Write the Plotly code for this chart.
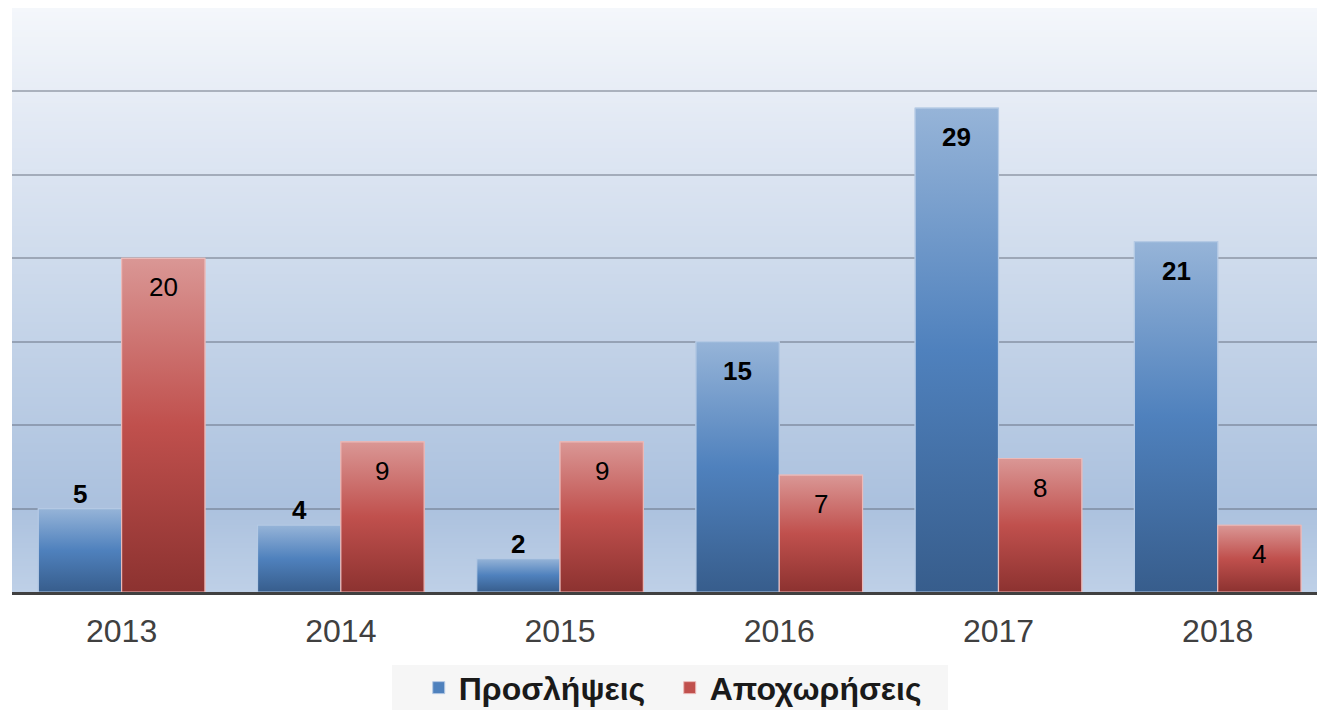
import base64
import struct
import zlib

import plotly.graph_objects as go

# ---------------- data ----------------
categories = ["2013", "2014", "2015", "2016", "2017", "2018"]
hires = [5, 4, 2, 15, 29, 21]            # Προσλήψεις
departures = [20, 9, 9, 7, 8, 4]         # Αποχωρήσεις
series_names = ["Προσλήψεις", "Αποχωρήσεις"]
hires_label_pos = ["outside", "outside", "outside", "inside", "inside", "inside"]
departures_label_pos = ["inside"] * 6

# ---------------- style ----------------
FONT = "Liberation Sans, Arial, sans-serif"
BAR_W = 0.38
X_SPAN = 5.953          # visible category span (last category clipped at the right edge)
blue_scale = [[0, "#375d8c"], [0.5, "#4f81bd"], [1, "#96b4d8"]]
red_scale = [[0, "#8c3230"], [0.5, "#c0504d"], [1, "#da9795"]]
blue_mid, red_mid = "#4f81bd", "#c0504d"
blue_edge, red_edge = "#b4c9e4", "#ebbab9"


def gradient_png(stops, height=256, width=2):
    """Vertical gradient PNG (top->bottom) as data URI for the plot background."""
    def hex2rgb(h):
        h = h.lstrip("#")
        return [int(h[i:i + 2], 16) for i in (0, 2, 4)]
    pts = [(p, hex2rgb(c)) for p, c in stops]
    raw = b""
    for r in range(height):
        t = r / (height - 1)
        for k in range(len(pts) - 1):
            if pts[k][0] <= t <= pts[k + 1][0]:
                p0, c0 = pts[k]
                p1, c1 = pts[k + 1]
                f = 0 if p1 == p0 else (t - p0) / (p1 - p0)
                col = [round(c0[j] + (c1[j] - c0[j]) * f) for j in range(3)]
                break
        raw += b"\x00" + bytes(col) * width

    def chunk(tag, data):
        c = struct.pack(">I", len(data)) + tag + data
        return c + struct.pack(">I", zlib.crc32(tag + data) & 0xffffffff)

    png = b"\x89PNG\r\n\x1a\n"
    png += chunk(b"IHDR", struct.pack(">IIBBBBB", width, height, 8, 2, 0, 0, 0))
    png += chunk(b"IDAT", zlib.compress(raw, 9))
    png += chunk(b"IEND", b"")
    return "data:image/png;base64," + base64.b64encode(png).decode()


bg_stops = [(0.0, "#f4f7fb"), (0.2, "#e2e9f4"), (0.5, "#c9d7ea"),
            (0.85, "#abc1de"), (1.0, "#bed0e7")]

idx = list(range(len(categories)))
fig = go.Figure()

# base bars (also provide legend entries)
fig.add_trace(go.Bar(x=idx, y=hires, width=BAR_W, offset=-BAR_W, name=series_names[0],
                     marker=dict(color=blue_mid, line=dict(color=blue_edge, width=1)),
                     hoverinfo="skip"))
fig.add_trace(go.Bar(x=idx, y=departures, width=BAR_W, offset=0, name=series_names[1],
                     marker=dict(color=red_mid, line=dict(color=red_edge, width=1)),
                     hoverinfo="skip"))

# gradient overlays for each bar
for vals, off, scale, edge in [(hires, -BAR_W, blue_scale, blue_edge),
                               (departures, 0, red_scale, red_edge)]:
    for i, v in zip(idx, vals):
        x0, x1 = i + off, i + off + BAR_W
        fig.add_trace(go.Scatter(
            x=[x0, x1, x1, x0, x0], y=[0, 0, v, v, 0],
            mode="lines", fill="toself",
            fillgradient=dict(type="vertical", colorscale=scale),
            line=dict(color=edge, width=1.2),
            showlegend=False, hoverinfo="skip"))

# data labels
annotations = []
for vals, off, positions, bold in [(hires, -BAR_W / 2, hires_label_pos, True),
                                   (departures, BAR_W / 2, departures_label_pos, False)]:
    for i, v, pos in zip(idx, vals, positions):
        inside = pos == "inside"
        annotations.append(dict(
            x=i + off, y=v, xref="x", yref="y", showarrow=False,
            text=f"<b>{v}</b>" if bold else str(v),
            font=dict(family=FONT, size=26, color="#000000"),
            yanchor="top" if inside else "bottom",
            yshift=-12 if inside else -2))

fig.update_layout(
    width=1317, height=710,
    margin=dict(l=12, r=0, t=8, b=118, autoexpand=False),
    paper_bgcolor="#ffffff",
    plot_bgcolor="rgba(0,0,0,0)",
    barmode="overlay",
    font=dict(family=FONT),
    showlegend=True,
    legend=dict(orientation="h", x=0.504, xanchor="center", y=-0.117, yanchor="top",
                bgcolor="rgba(0,0,0,0)", entrywidth=206,
                font=dict(family=FONT, size=32, color="#1a1a1a", weight="bold"),
                itemclick=False, traceorder="normal"),
    shapes=[dict(type="rect", xref="paper", yref="paper",
                 x0=0.2912, x1=0.7172, y0=-0.22, y1=-0.125,
                 fillcolor="#f6f6f6", line=dict(width=0), layer="below")],
    annotations=annotations,
    images=[dict(source=gradient_png(bg_stops), xref="paper", yref="paper",
                 x=0, y=1, sizex=1, sizey=1, sizing="stretch",
                 xanchor="left", yanchor="top", layer="below")],
    xaxis=dict(range=[-0.5, -0.5 + X_SPAN], tickvals=idx, ticktext=categories,
               showgrid=False, zeroline=False, showline=True, linecolor="#404040",
               linewidth=3, ticks="", ticklabelstandoff=9,
               tickfont=dict(family=FONT, size=32, color="#404040"), fixedrange=True),
    yaxis=dict(range=[0, 35], dtick=5, showgrid=True, gridcolor="rgba(95,105,120,0.45)",
               gridwidth=1.5, zeroline=False, showticklabels=False, showline=False,
               fixedrange=True),
)

fig.write_html(
    "out.html",
    config={"responsive": False, "displayModeBar": False},
    post_script="document.body.style.margin='0';document.body.style.overflow='hidden';",
)
